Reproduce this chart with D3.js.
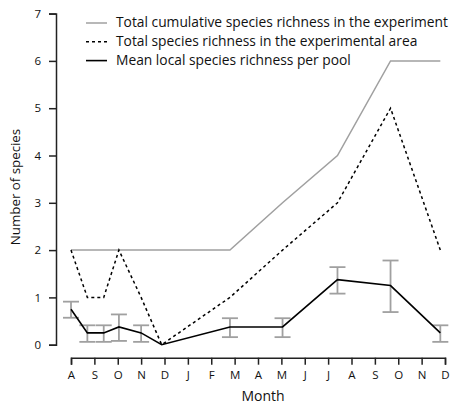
<!DOCTYPE html>
<html><head><meta charset="utf-8">
<script src="https://cdn.jsdelivr.net/npm/d3@7"></script>
<style>
html,body{margin:0;padding:0;background:#fff;}
svg{display:block;}
text{font-family:"Open Sans",sans-serif;}
</style></head>
<body>
<svg id="c" width="452" height="405"></svg>
<script>
// Month tick labels (Aug .. Dec of following year)
const monthLabels = ["A","S","O","N","D","J","F","M","A","M","J","J","A","S","O","N","D"];
// Sampling times in months since first August tick
const sampleTimes = [0, 0.7, 1.4, 2.05, 3.0, 3.88, 6.8, 9.05, 11.4, 13.67, 15.8];
// Total cumulative species richness in the experiment
const cumulative = [2, 2, 2, 2, 2, 2, 2, 3, 4, 6, 6];
// Total species richness in the experimental area
const areaTotal = [2, 1, 1, 2, 1, 0, 1, 2, 3, 5, 2];
// Mean local species richness per pool
const meanLocal = [0.75, 0.25, 0.25, 0.375, 0.25, 0, 0.375, 0.375, 1.375, 1.25, 0.25];
// Error bar lower / upper bounds (NaN = none)
const errLow  = [0.57, 0.06, 0.06, 0.08, 0.06, NaN, 0.16, 0.16, 1.08, 0.69, 0.06];
const errHigh = [0.91, 0.41, 0.41, 0.64, 0.41, NaN, 0.56, 0.56, 1.64, 1.78, 0.41];
const yTicks = [0,1,2,3,4,5,6,7];
const legendLabels = ["Total cumulative species richness in the experiment",
                      "Total species richness in the experimental area",
                      "Mean local species richness per pool"];

const svg = d3.select("#c");
const x = d3.scaleLinear().domain([0,16]).range([71,445]);
const y = d3.scaleLinear().domain([0,7]).range([344.7,13.6]);
const axisCol = "#222";
const grey = "#a0a0a0";

// Y axis
const gy = svg.append("g").attr("transform","translate(56,0)")
  .call(d3.axisLeft(y).tickValues(yTicks).tickFormat(d3.format("d")).tickSizeOuter(0).tickSize(7).tickPadding(8));
// X axis
const gx = svg.append("g").attr("transform","translate(0,357.7)")
  .call(d3.axisBottom(x).tickValues(d3.range(17)).tickFormat(i=>monthLabels[i]).tickSizeOuter(0).tickSize(7).tickPadding(6));
[gy,gx].forEach(g=>{
  g.select(".domain").attr("stroke",axisCol).attr("stroke-width",1.5);
  g.selectAll(".tick line").attr("stroke",axisCol).attr("stroke-width",1.5);
  g.selectAll(".tick text").attr("fill","#111").style("font-size","11.5px").style("font-family","'Open Sans', sans-serif");
});

const pts = i => sampleTimes.map((t,j)=>[x(t), y(i[j])]);
const line = d3.line();

// Error bars
const eb = svg.append("g").attr("stroke",grey).attr("stroke-width",1.8).attr("fill","none");
sampleTimes.forEach((t,j)=>{
  if (isNaN(errLow[j])) return;
  const cx = x(t), y0 = y(errLow[j]), y1 = y(errHigh[j]);
  eb.append("line").attr("x1",cx).attr("x2",cx).attr("y1",y0).attr("y2",y1);
  eb.append("line").attr("x1",cx-8).attr("x2",cx+8).attr("y1",y0).attr("y2",y0);
  eb.append("line").attr("x1",cx-8).attr("x2",cx+8).attr("y1",y1).attr("y2",y1);
});

svg.append("path").attr("d",line(pts(cumulative))).attr("fill","none").attr("stroke",grey).attr("stroke-width",1.5);
svg.append("path").attr("d",line(pts(areaTotal))).attr("fill","none").attr("stroke","#000").attr("stroke-width",1.5).attr("stroke-dasharray","3,3");
svg.append("path").attr("d",line(pts(meanLocal))).attr("fill","none").attr("stroke","#000").attr("stroke-width",1.6);

// Legend
const styles = [{c:grey,d:null,w:1.5},{c:"#000",d:"3,3",w:1.5},{c:"#000",d:null,w:1.6}];
const lg = svg.append("g");
legendLabels.forEach((lab,i)=>{
  const yy = 23 + i*18.8;
  lg.append("line").attr("x1",86).attr("x2",107).attr("y1",yy).attr("y2",yy)
    .attr("stroke",styles[i].c).attr("stroke-width",styles[i].w).attr("stroke-dasharray",styles[i].d);
  lg.append("text").attr("x",116).attr("y",yy+4.3).text(lab).style("font-size","13.8px").attr("fill","#111");
});

// Axis titles
svg.append("text").attr("x",263).attr("y",400.5).attr("text-anchor","middle").style("font-size","14px").attr("fill","#111").text("Month");
svg.append("text").attr("transform","translate(20,187) rotate(-90)").attr("text-anchor","middle").style("font-size","13.3px").attr("fill","#111").text("Number of species");
</script>
</body></html>
